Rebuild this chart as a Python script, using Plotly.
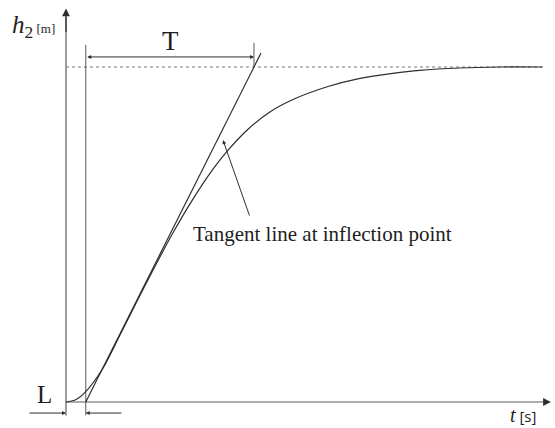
import plotly.graph_objects as go

# Step response h2(t) of the tank level
t_vals = [0.0, 0.19, 0.39, 0.75, 1.12, 1.47, 1.85, 2.22, 2.64, 3.05, 3.34, 3.76,
          4.23, 4.71, 5.42, 6.10, 6.78, 7.34, 8.17, 9.00, 9.88]
h_vals = [0.0, 0.006, 0.028, 0.097, 0.200, 0.300, 0.406, 0.505, 0.607, 0.695, 0.748, 0.812,
          0.866, 0.903, 0.941, 0.966, 0.981, 0.990, 0.997, 1.0, 1.0]

L = 0.41          # dead time [s]
T = 3.49          # time constant [s]
h_final = 1.0     # steady-state level [m]
tangent_top = 1.042

# Tangent line at the inflection point
tan_t = [L, L + tangent_top * T]
tan_h = [0.0, tangent_top]

X_RANGE = [-1.369, 10.145]
Y_RANGE = [-0.0776, 1.2]

AXIS_COL = "#5a5a5a"
LINE_COL = "#2e2e2e"
TEXT_COL = "#1e1e1e"
SERIF = "Liberation Serif"

fig = go.Figure()

# Steady-state reference (dotted)
fig.add_trace(go.Scatter(x=[0, 9.9], y=[h_final, h_final], mode="lines",
                         line=dict(color="#777777", width=1, dash="dot"),
                         hoverinfo="skip", showlegend=False))
# Vertical guides at t = L and t = L + T
fig.add_trace(go.Scatter(x=[L, L], y=[-0.04, 1.066], mode="lines",
                         line=dict(color=AXIS_COL, width=1),
                         hoverinfo="skip", showlegend=False))
fig.add_trace(go.Scatter(x=[L + T, L + T], y=[h_final, 1.072], mode="lines",
                         line=dict(color=AXIS_COL, width=1),
                         hoverinfo="skip", showlegend=False))
# Axes lines (y axis extends slightly below zero)
fig.add_trace(go.Scatter(x=[0, 0], y=[-0.04, 1.15], mode="lines",
                         line=dict(color=AXIS_COL, width=1.2),
                         hoverinfo="skip", showlegend=False))
fig.add_trace(go.Scatter(x=[0, 10.0], y=[0, 0], mode="lines",
                         line=dict(color=AXIS_COL, width=1.2),
                         hoverinfo="skip", showlegend=False))
# Tangent
fig.add_trace(go.Scatter(x=tan_t, y=tan_h, mode="lines",
                         line=dict(color=LINE_COL, width=1.2),
                         hoverinfo="skip", showlegend=False))
# Response curve
fig.add_trace(go.Scatter(x=t_vals, y=h_vals, mode="lines",
                         line=dict(color=LINE_COL, width=1.2, shape="spline", smoothing=0.8),
                         hoverinfo="skip", showlegend=False))

def arrow(x0, y0, x1, y1, size=1.0, head=2, width=1.0, side="end"):
    fig.add_annotation(x=x1, y=y1, ax=x0, ay=y0, xref="x", yref="y",
                       axref="x", ayref="y", text="", showarrow=True,
                       arrowhead=head, arrowsize=size, arrowwidth=width,
                       arrowcolor=LINE_COL, arrowside=side)

# Axis arrowheads
arrow(0, 1.10, 0, 1.175, size=1.3, head=2, width=1.2)
arrow(9.9, 0, 10.06, 0, size=1.3, head=2, width=1.2)
# T dimension arrow
arrow(L, 1.03, L + T, 1.03, size=0.8, head=2, width=1, side="end+start")
# L dimension arrows
arrow(-0.79, -0.033, 0, -0.033, size=0.8, head=2, width=1)
arrow(1.18, -0.033, L, -0.033, size=0.8, head=2, width=1)
# Pointer to the tangent
arrow(3.817, 0.552, 3.257, 0.782, size=0.8, head=2, width=1)

def label(x, y, text, size, family=SERIF, xanchor="center", yanchor="middle"):
    fig.add_annotation(x=x, y=y, xref="x", yref="y", text=text, showarrow=False,
                       font=dict(family=family, size=size, color=TEXT_COL),
                       xanchor=xanchor, yanchor=yanchor)

label(2.178, 1.078, "T", 27)
label(-0.44, 0.022, "L", 25)
label(2.60, 0.501, "Tangent line at inflection point", 21, xanchor="left")
label(-1.17, 1.122,
      "<i>h</i><sub>2</sub><span style='font-size:13px'> [m]</span>", 25,
      xanchor="left")
label(9.17, Y_RANGE[0],
      "<i>t</i><span style='font-size:15px;font-family:Open Sans'> [s]</span>", 20,
      xanchor="left", yanchor="bottom")

fig.update_layout(
    width=555, height=428,
    margin=dict(l=0, r=0, t=0, b=0),
    paper_bgcolor="white", plot_bgcolor="white",
    xaxis=dict(range=X_RANGE, visible=False, fixedrange=True),
    yaxis=dict(range=Y_RANGE, visible=False, fixedrange=True),
    showlegend=False,
)

fig.write_html("out.html")
